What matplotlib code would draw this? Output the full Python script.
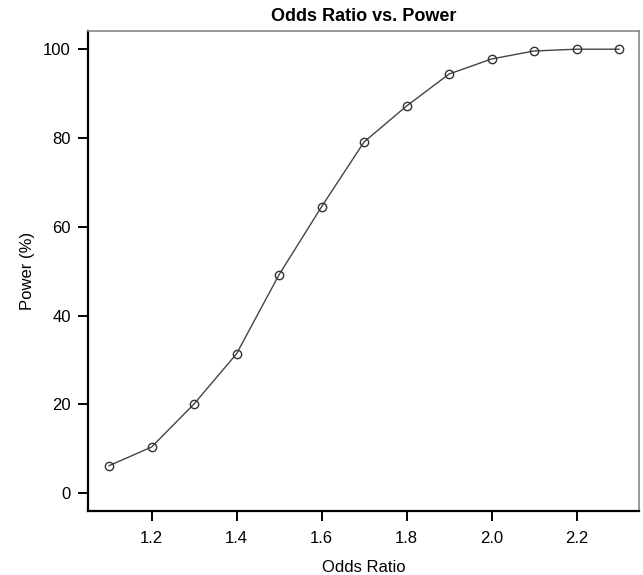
"""Odds ratio vs. power curve. Output: out.png"""
import matplotlib
matplotlib.use("Agg")
import matplotlib.pyplot as plt

odds_ratio = [1.1, 1.2, 1.3, 1.4, 1.5, 1.6, 1.7, 1.8, 1.9, 2.0, 2.1, 2.2, 2.3]
power_pct = [6.2, 10.4, 20.1, 31.4, 49.2, 64.5, 79.1, 87.2, 94.4, 97.8, 99.6, 100.0, 100.0]
x_ticks = [1.2, 1.4, 1.6, 1.8, 2.0, 2.2]
y_ticks = [0, 20, 40, 60, 80, 100]

plt.rcParams.update({"font.family": ["Liberation Sans", "DejaVu Sans"], "font.size": 11})

fig = plt.figure(figsize=(6.43, 5.75), dpi=100)
ax = fig.add_axes([0.1369, 0.1113, 0.8569, 0.8348])

ax.plot(odds_ratio, power_pct, color="#444444", lw=1.0, marker="o", ms=6,
        mfc="none", mec="#333333", mew=1.0)

ax.set_xlim(1.0506, 2.347)
ax.set_ylim(-4, 104.1)
ax.set_xticks(x_ticks)
ax.set_xticklabels([f"{v:.1f}" for v in x_ticks])
ax.set_yticks(y_ticks)
ax.tick_params(direction="out", length=7.5, width=1.4, labelsize=12)
ax.tick_params(axis="x", pad=7)
ax.tick_params(axis="y", pad=5)

for s in ("left", "bottom"):
    ax.spines[s].set_linewidth(1.6)
    ax.spines[s].set_color("black")
for s in ("top", "right"):
    ax.spines[s].set_linewidth(1.2)
    ax.spines[s].set_color("#888888")

ax.set_title("Odds Ratio vs. Power", fontweight="bold", fontsize=13, pad=7)
ax.set_xlabel("Odds Ratio", fontsize=12, labelpad=10)
ax.set_ylabel("Power (%)", fontsize=12, labelpad=6)

fig.savefig("out.png", dpi=100, facecolor="white")
